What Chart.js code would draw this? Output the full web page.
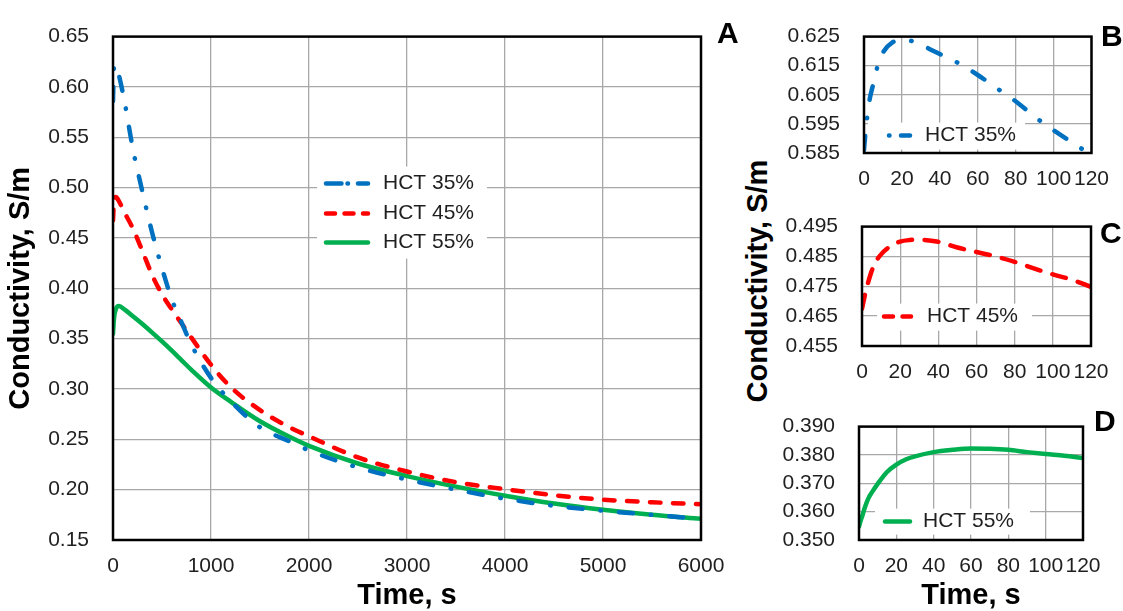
<!DOCTYPE html>
<html>
<head>
<meta charset="utf-8">
<title>Conductivity vs time</title>
<script src="https://cdn.jsdelivr.net/npm/chart.js@4.4.1/dist/chart.umd.min.js"></script>
<style>
  body { margin: 0; background: #fff; font-family: 'Liberation Sans', Arial, sans-serif; }
  #wrap { position: relative; width: 1123px; height: 611px; overflow: hidden; background: #fff; }
  canvas { position: absolute; }
  .panel { position: absolute; font-weight: bold; font-size: 30px; line-height: 30px; color: #000; }
  #ytitle {
    position: absolute; left: 757px; top: 281px;
    transform: translate(-50%, -50%) rotate(-90deg);
    font-weight: bold; font-size: 29px; line-height: 29px; white-space: nowrap; color: #000;
  }
</style>
</head>
<body>
<div id="wrap">
  <canvas id="chartA" width="740" height="611" style="left:0;top:0"></canvas>
  <canvas id="chartB" width="343" height="193" style="left:780px;top:0"></canvas>
  <canvas id="chartC" width="343" height="200" style="left:780px;top:190px"></canvas>
  <canvas id="chartD" width="343" height="221" style="left:780px;top:390px"></canvas>
  <div id="ytitle">Conductivity, S/m</div>
  <div class="panel" style="left:717px;top:18px">A</div>
  <div class="panel" style="left:1101px;top:21px">B</div>
  <div class="panel" style="left:1100px;top:218px">C</div>
  <div class="panel" style="left:1094px;top:406px">D</div>
</div>
<script>
// long run, 0 - 6000 s (panel A)
const timeLong = [0, 10, 30, 60, 120, 200, 300, 400, 500, 600, 700, 800, 1000, 1200, 1500, 1800, 2000, 2500, 3000, 3500, 4000, 4500, 5000, 5500, 6000];
const hct35Long = [0.586, 0.6195, 0.6222, 0.6118, 0.5843, 0.540, 0.496, 0.455, 0.420, 0.389, 0.366, 0.344, 0.311, 0.288, 0.262, 0.248, 0.239, 0.222, 0.210, 0.200, 0.191, 0.184, 0.179, 0.175, 0.171];
const hct45Long = [0.4675, 0.4857, 0.4906, 0.4865, 0.4748, 0.460, 0.437, 0.413, 0.394, 0.379, 0.365, 0.351, 0.324, 0.302, 0.279, 0.262, 0.253, 0.232, 0.218, 0.2075, 0.2005, 0.1945, 0.190, 0.1875, 0.1855];
const hct55Long = [0.3547, 0.3698, 0.3795, 0.3823, 0.3788, 0.3725, 0.3645, 0.356, 0.3472, 0.338, 0.3285, 0.319, 0.3015, 0.2875, 0.268, 0.2525, 0.2435, 0.226, 0.2135, 0.203, 0.194, 0.1862, 0.180, 0.175, 0.171];

// first 120 s (panels B, C, D)
const timeShort = [0, 1, 2, 3, 5, 7, 10, 15, 20, 25, 30, 40, 50, 60, 70, 80, 90, 100, 110, 120];
const hct35Short = [0.586, 0.5935, 0.599, 0.6035, 0.609, 0.6145, 0.6195, 0.623, 0.6238, 0.6235, 0.6222, 0.619, 0.6158, 0.6118, 0.6073, 0.6028, 0.5975, 0.5928, 0.5885, 0.5843];
const hct45Short = [0.4675, 0.4705, 0.4735, 0.4758, 0.480, 0.483, 0.4857, 0.4885, 0.490, 0.4905, 0.4906, 0.4899, 0.488, 0.4865, 0.485, 0.4832, 0.481, 0.479, 0.4772, 0.4748];
const hct55Short = [0.3547, 0.357, 0.359, 0.3612, 0.3647, 0.3669, 0.3698, 0.3740, 0.3766, 0.3784, 0.3795, 0.381, 0.3818, 0.3823, 0.3822, 0.3818, 0.381, 0.3803, 0.3797, 0.3789];

// tick labels
const xTicksA = [0, 1000, 2000, 3000, 4000, 5000, 6000];
const yTicksA = [0.15, 0.20, 0.25, 0.30, 0.35, 0.40, 0.45, 0.50, 0.55, 0.60, 0.65];
const xTicksShort = [0, 20, 40, 60, 80, 100, 120];
const yTicksB = [0.585, 0.595, 0.605, 0.615, 0.625];
const yTicksC = [0.455, 0.465, 0.475, 0.485, 0.495];
const yTicksD = [0.350, 0.360, 0.370, 0.380, 0.390];

const BLUE = '#0070C0', RED = '#FF0000', GREEN = '#00B050';
const GRID = '#a8a8a8';
const TICK_COLOR = '#1f1f1f';

Chart.defaults.font.family = "'Liberation Sans', Arial, sans-serif";
Chart.defaults.color = TICK_COLOR;

function pts(xs, ys) {
    return xs.map((x, i) => ({ x: x, y: ys[i] }));
}

function series(label, xs, ys, color, dash, legendDash) {
    return {
        label: label,
        data: pts(xs, ys),
        borderColor: color,
        borderWidth: 4.5,
        borderDash: dash,
        borderCapStyle: 'round',
        borderJoinStyle: 'round',
        legendDash: legendDash,
        fill: false,
        pointRadius: 0
    };
}

// plot frame + legend box drawn inside the plot area
const boxLegend = {
    id: 'boxLegend',
    afterDatasetsDraw(chart, args, opts) {
        const { ctx, chartArea } = chart;
        ctx.save();
        ctx.setLineDash([]);
        ctx.lineWidth = 2.5;
        ctx.strokeStyle = '#000';
        ctx.strokeRect(chartArea.left, chartArea.top, chartArea.right - chartArea.left, chartArea.bottom - chartArea.top);

        const x = chartArea.left + opts.x;
        const y = chartArea.top + opts.y;
        ctx.fillStyle = '#fff';
        ctx.fillRect(x, y, opts.w, opts.h);

        chart.data.datasets.forEach((ds, i) => {
            const ry = y + opts.rows[i];
            ctx.beginPath();
            ctx.setLineDash(ds.legendDash || []);
            ctx.lineCap = 'round';
            ctx.lineWidth = ds.borderWidth;
            ctx.strokeStyle = ds.borderColor;
            ctx.moveTo(x + opts.x0, ry);
            ctx.lineTo(x + opts.x1, ry);
            ctx.stroke();
            ctx.setLineDash([]);
            ctx.fillStyle = TICK_COLOR;
            ctx.font = "21px 'Liberation Sans', Arial, sans-serif";
            ctx.textBaseline = 'middle';
            ctx.textAlign = 'left';
            ctx.fillText(ds.label, x + opts.tx, ry);
        });
        ctx.restore();
    }
};

function buildChart(id, o) {
    return new Chart(document.getElementById(id), {
        type: 'line',
        data: { datasets: o.datasets },
        options: {
            responsive: false,
            animation: false,
            devicePixelRatio: 1,
            layout: { padding: o.padding },
            elements: { line: { cubicInterpolationMode: 'monotone' } },
            plugins: {
                legend: { display: false },
                tooltip: { enabled: false },
                boxLegend: o.legend
            },
            scales: {
                x: {
                    type: 'linear',
                    min: o.xTicks[0],
                    max: o.xTicks[o.xTicks.length - 1],
                    afterBuildTicks: scale => { scale.ticks = o.xTicks.map(v => ({ value: v })); },
                    afterFit: scale => { scale.height = o.xHeight; },
                    grid: { color: GRID, lineWidth: 1.3, drawTicks: false },
                    border: { display: false },
                    ticks: {
                        padding: 14,
                        maxRotation: 0,
                        autoSkip: false,
                        font: { size: o.fontSize },
                        color: TICK_COLOR,
                        callback: v => String(v)
                    },
                    title: {
                        display: !!o.xTitle,
                        text: o.xTitle || '',
                        color: '#000',
                        font: { size: 29, weight: 'bold' },
                        padding: { top: 0, bottom: -2 }
                    }
                },
                y: {
                    type: 'linear',
                    min: o.yTicks[0],
                    max: o.yTicks[o.yTicks.length - 1],
                    afterBuildTicks: scale => { scale.ticks = o.yTicks.map(v => ({ value: v })); },
                    afterFit: scale => { scale.width = o.yWidth; },
                    grid: { color: GRID, lineWidth: 1.3, drawTicks: false },
                    border: { display: false },
                    ticks: {
                        padding: 24,
                        font: { size: o.fontSize },
                        color: TICK_COLOR,
                        callback: v => v.toFixed(o.yDigits)
                    },
                    title: {
                        display: !!o.yTitle,
                        text: o.yTitle || '',
                        color: '#000',
                        font: { size: 29, weight: 'bold' },
                        padding: { top: 3.5, bottom: 0 }
                    }
                }
            }
        },
        plugins: [boxLegend]
    });
}

// Panel A: full 6000 s run
buildChart('chartA', {
    datasets: [
        series('HCT 35%', timeLong, hct35Long, BLUE, [14, 18, 0.5, 18], [15.5, 6, 0.5, 10]),
        series('HCT 45%', timeLong, hct45Long, RED, [10.5, 12.5], [9, 9.5]),
        series('HCT 55%', timeLong, hct55Long, GREEN, [], [])
    ],
    padding: { top: 20, right: 39, bottom: 0, left: 0 },
    xTicks: xTicksA, yTicks: yTicksA, yDigits: 2,
    xHeight: 71, yWidth: 113, fontSize: 21,
    xTitle: 'Time, s', yTitle: 'Conductivity, S/m',
    legend: { x: 204, y: 130, w: 170, h: 92, rows: [17, 47, 76], x0: 9, x1: 51, tx: 66 }
});

// Panel B: HCT 35%, first 120 s
buildChart('chartB', {
    datasets: [series('HCT 35%', timeShort, hct35Short, BLUE, [14, 18, 0.5, 18], [0.5, 11.5, 20, 10])],
    padding: { top: 27, right: 31, bottom: 0, left: 0 },
    xTicks: xTicksShort, yTicks: yTicksB, yDigits: 3,
    xHeight: 40, yWidth: 84, fontSize: 21,
    legend: { x: 4, y: 86, w: 157, h: 27, rows: [13], x0: 21, x1: 42, tx: 57 }
});

// Panel C: HCT 45%, first 120 s
buildChart('chartC', {
    datasets: [series('HCT 45%', timeShort, hct45Short, RED, [14, 12.5], [9, 9.5])],
    padding: { top: 33, right: 32, bottom: 0, left: 0 },
    xTicks: xTicksShort, yTicks: yTicksC, yDigits: 3,
    xHeight: 44, yWidth: 82, fontSize: 21,
    legend: { x: 15, y: 77, w: 155, h: 27, rows: [13], x0: 7, x1: 34, tx: 50 }
});

// Panel D: HCT 55%, first 120 s
buildChart('chartD', {
    datasets: [series('HCT 55%', timeShort, hct55Short, GREEN, [], [])],
    padding: { top: 23, right: 40, bottom: 0, left: 0 },
    xTicks: xTicksShort, yTicks: yTicksD, yDigits: 3,
    xHeight: 71, yWidth: 79, fontSize: 21,
    xTitle: 'Time, s',
    legend: { x: 16, y: 82, w: 155, h: 26, rows: [13], x0: 10, x1: 35, tx: 48 }
});
</script>
</body>
</html>
